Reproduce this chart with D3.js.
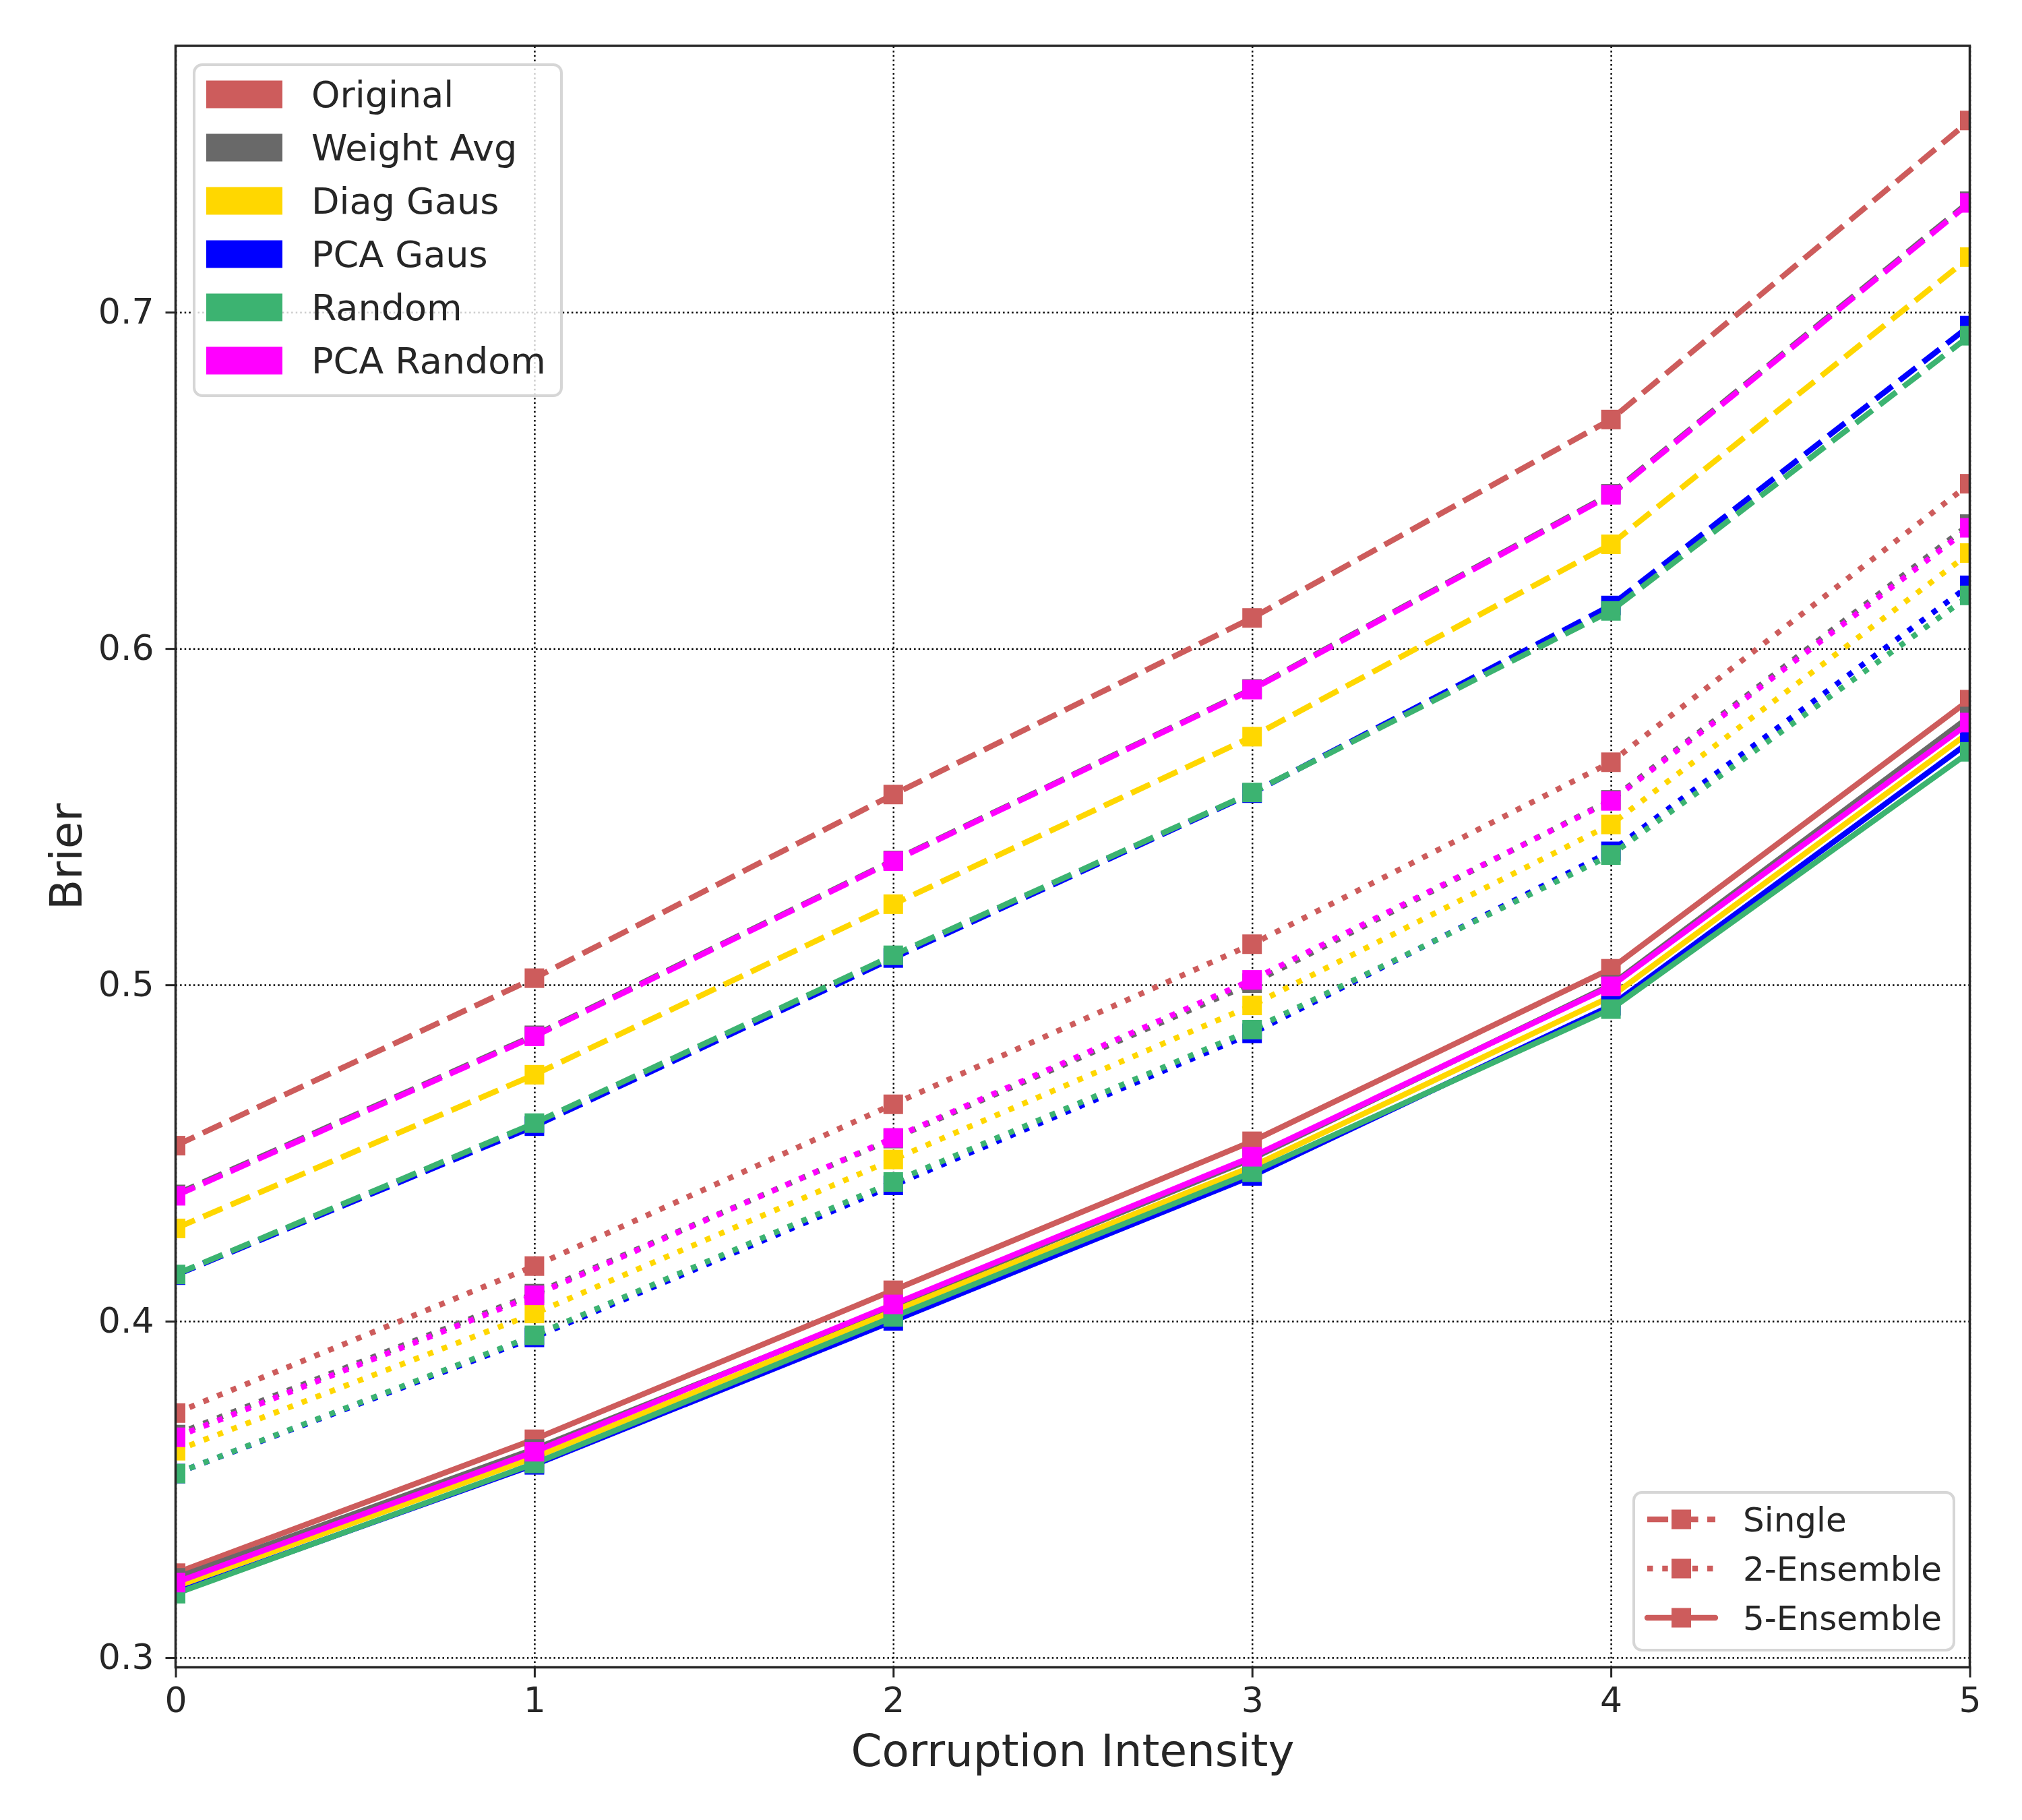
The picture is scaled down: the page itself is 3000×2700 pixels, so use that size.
<!DOCTYPE html>
<html lang="en">
<head>
  <meta charset="utf-8">
  <title> Brier vs Corruption Intensity </title>
</head>
<body style="margin:0; background:white;">

<script src="https://d3js.org/d3.v7.min.js"></script>

<style>
    text
    {
        font-family: "DejaVu Sans", sans-serif;
        fill: #262626;
    }
</style>

<script>

    // ---- data ----
    var intensities = [0, 1, 2, 3, 4, 5];
    var methods = ["Original", "Weight Avg", "Diag Gaus", "PCA Gaus", "Random", "PCA Random"];
    var ensembles = ["Single", "2-Ensemble", "5-Ensemble"];
    var yTicks = [0.3, 0.4, 0.5, 0.6, 0.7];

    // one row per method, same order as methods
    var singleBrier = [
        [0.4522, 0.5020, 0.5566, 0.6091, 0.6681, 0.7570],
        [0.4377, 0.4850, 0.5370, 0.5880, 0.6460, 0.7330],
        [0.4276, 0.4733, 0.5240, 0.5738, 0.6310, 0.7164],
        [0.4137, 0.4580, 0.5080, 0.5570, 0.6128, 0.6960],
        [0.4139, 0.4589, 0.5088, 0.5572, 0.6112, 0.6930],
        [0.4373, 0.4847, 0.5368, 0.5878, 0.6457, 0.7325]
    ];
    var ens2Brier = [
        [0.3727, 0.4164, 0.4645, 0.5121, 0.5662, 0.6490],
        [0.3663, 0.4082, 0.4543, 0.5005, 0.5550, 0.6370],
        [0.3615, 0.4023, 0.4481, 0.4939, 0.5477, 0.6284],
        [0.3547, 0.3952, 0.4404, 0.4856, 0.5397, 0.6188],
        [0.3547, 0.3958, 0.4414, 0.4867, 0.5386, 0.6158],
        [0.3655, 0.4077, 0.4545, 0.5015, 0.5547, 0.6359]
    ];
    var ens5Brier = [
        [0.3251, 0.3649, 0.4092, 0.4535, 0.5048, 0.5848],
        [0.3237, 0.3620, 0.4045, 0.4483, 0.5000, 0.5798],
        [0.3210, 0.3595, 0.4030, 0.4460, 0.4965, 0.5752],
        [0.3193, 0.3573, 0.4001, 0.4432, 0.4938, 0.5723],
        [0.3190, 0.3577, 0.4013, 0.4443, 0.4928, 0.5693],
        [0.3223, 0.3612, 0.4050, 0.4489, 0.4996, 0.5780]
    ];

    // ---- styles ----
    var colors = ["#cd5c5c", "#696969", "#ffd700", "#0000ff", "#3cb371", "#ff00ff"];
    var lw = 8.4;
    var dashes = [(3.7 * lw) + "," + (1.6 * lw), lw + "," + (1.65 * lw), null];
    var caps = ["butt", "butt", "round"];
    var markerSize = 29;

    var width = 3000, height = 2700;
    var plotL = 260.5, plotR = 2922.5, plotT = 68, plotB = 2473.5;

    var x = d3.scaleLinear().domain([0, 5]).range([plotL, plotR]);
    var y = d3.scaleLinear().domain([0.2971, 0.7792]).range([plotB, plotT]);

    var svg = d3.select("body").append("svg")
                .attr("width", width).attr("height", height)
                .style("background", "white")
                .style("display", "block");

    svg.append("defs").append("clipPath").attr("id", "plotclip")
       .append("rect")
       .attr("x", plotL).attr("y", plotT)
       .attr("width", plotR - plotL).attr("height", plotB - plotT);

    // ---- grid ----
    var grid = svg.append("g");
    grid.append("g").attr("transform", "translate(0," + plotB + ")")
        .call(d3.axisBottom(x).tickValues(intensities).tickSize(-(plotB - plotT)).tickFormat(""));
    grid.append("g").attr("transform", "translate(" + plotL + ",0)")
        .call(d3.axisLeft(y).tickValues(yTicks).tickSize(-(plotR - plotL)).tickFormat(""));
    grid.selectAll(".domain").remove();
    grid.selectAll("line")
        .attr("stroke", "black")
        .attr("stroke-width", 2.5)
        .attr("stroke-dasharray", "2.5,4.1");

    // ---- series ----
    var series = [singleBrier, ens2Brier, ens5Brier];
    var plot = svg.append("g").attr("clip-path", "url(#plotclip)");

    var line = d3.line()
                 .x(function(d, i){ return x(intensities[i]); })
                 .y(function(d){ return y(d); });

    series.forEach(function(group, e)
    {
        group.forEach(function(values, m)
        {
            var g = plot.append("g");
            g.append("path")
             .attr("d", line(values))
             .attr("fill", "none")
             .attr("stroke", colors[m])
             .attr("stroke-width", lw)
             .attr("stroke-linecap", caps[e])
             .attr("stroke-linejoin", "round")
             .attr("stroke-dasharray", dashes[e]);
            g.selectAll("rect").data(values).enter().append("rect")
             .attr("x", function(d, i){ return x(intensities[i]) - markerSize / 2; })
             .attr("y", function(d){ return y(d) - markerSize / 2; })
             .attr("width", markerSize).attr("height", markerSize)
             .attr("fill", colors[m]);
        });
    });

    // ---- axes ----
    var xAxis = svg.append("g").attr("transform", "translate(0," + plotB + ")")
        .call(d3.axisBottom(x).tickValues(intensities).tickSize(15).tickPadding(14).tickFormat(d3.format("d")));
    var yAxis = svg.append("g").attr("transform", "translate(" + plotL + ",0)")
        .call(d3.axisLeft(y).tickValues(yTicks).tickSize(15).tickPadding(17).tickFormat(d3.format(".1f")));
    [xAxis, yAxis].forEach(function(a)
    {
        a.select(".domain").remove();
        a.selectAll("line").attr("stroke", "#262626").attr("stroke-width", 3);
        a.selectAll("text").style("font-size", "52px").attr("fill", "#262626");
    });
    xAxis.selectAll("text").attr("dy", "0.72em");

    svg.append("rect")
       .attr("x", plotL).attr("y", plotT)
       .attr("width", plotR - plotL).attr("height", plotB - plotT)
       .attr("fill", "none").attr("stroke", "#262626").attr("stroke-width", 3.5);

    svg.append("text")
       .attr("x", (plotL + plotR) / 2).attr("y", 2620)
       .attr("text-anchor", "middle")
       .style("font-size", "66px")
       .text("Corruption Intensity");

    svg.append("text")
       .attr("transform", "translate(121," + ((plotT + plotB) / 2) + ") rotate(-90)")
       .attr("text-anchor", "middle")
       .style("font-size", "66px")
       .text("Brier");

    // ---- legend: methods ----
    var leg1 = svg.append("g");
    leg1.append("rect")
        .attr("x", 288).attr("y", 96).attr("width", 545).attr("height", 491)
        .attr("rx", 12).attr("ry", 12)
        .attr("fill", "white").attr("fill-opacity", 0.8)
        .attr("stroke", "#d6d6d6").attr("stroke-width", 4);
    var item1 = leg1.selectAll("g.item").data(methods).enter().append("g")
        .attr("transform", function(d, i){ return "translate(0," + (140 + i * 79) + ")"; });
    item1.append("rect")
        .attr("x", 306).attr("y", -20.5).attr("width", 113).attr("height", 41)
        .attr("fill", function(d, i){ return colors[i]; });
    item1.append("text")
        .attr("x", 462).attr("y", 0).attr("dy", "0.36em")
        .style("font-size", "54px")
        .text(function(d){ return d; });

    // ---- legend: ensemble size ----
    var leg2 = svg.append("g");
    leg2.append("rect")
        .attr("x", 2424).attr("y", 2214).attr("width", 475).attr("height", 234)
        .attr("rx", 12).attr("ry", 12)
        .attr("fill", "white").attr("fill-opacity", 0.8)
        .attr("stroke", "#d6d6d6").attr("stroke-width", 4);
    var item2 = leg2.selectAll("g.item").data(ensembles).enter().append("g")
        .attr("transform", function(d, i){ return "translate(0," + (2254 + i * 73) + ")"; });
    item2.append("line")
        .attr("x1", 2444).attr("x2", 2545).attr("y1", 0).attr("y2", 0)
        .attr("stroke", colors[0]).attr("stroke-width", lw)
        .attr("stroke-linecap", function(d, i){ return caps[i]; })
        .attr("stroke-dasharray", function(d, i){ return dashes[i]; });
    item2.append("rect")
        .attr("x", 2494.5 - markerSize / 2).attr("y", -markerSize / 2)
        .attr("width", markerSize).attr("height", markerSize)
        .attr("fill", colors[0]);
    item2.append("text")
        .attr("x", 2586).attr("y", 0).attr("dy", "0.36em")
        .style("font-size", "50px")
        .text(function(d){ return d; });

</script>

</body>
</html>
